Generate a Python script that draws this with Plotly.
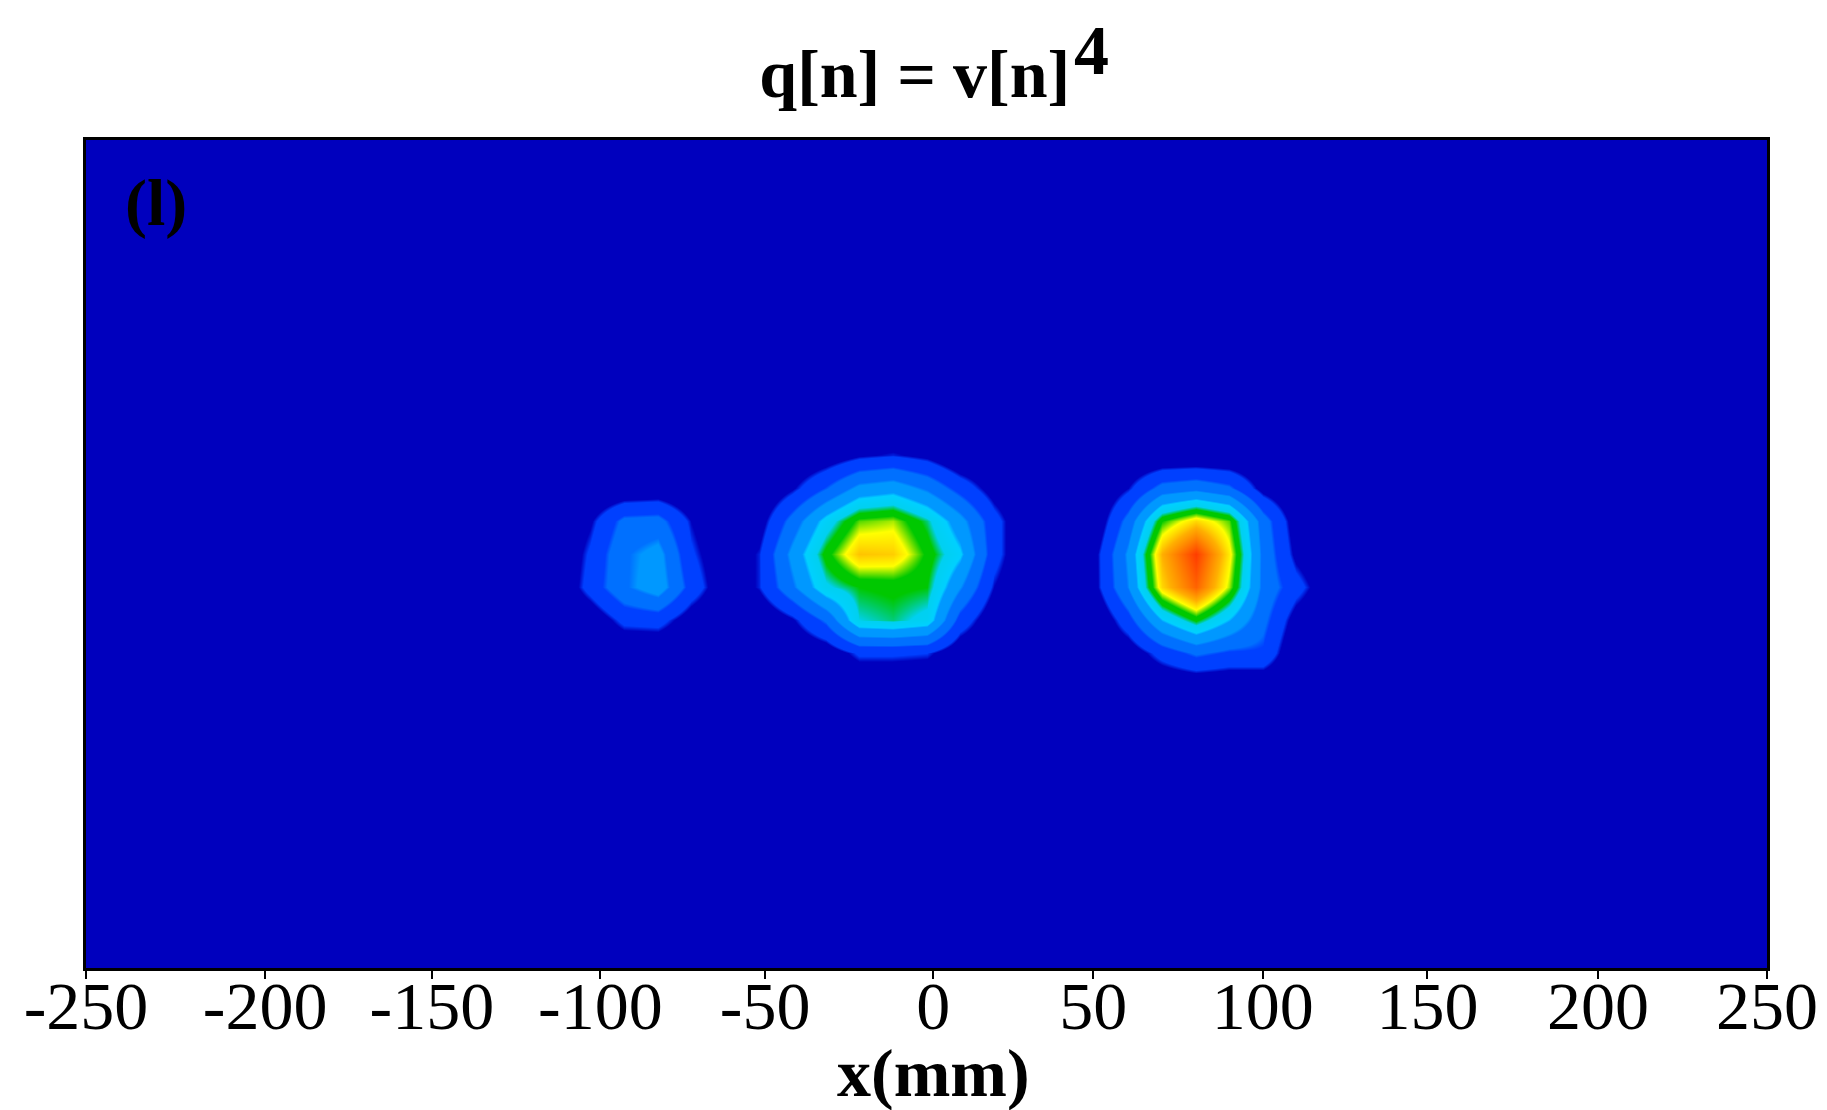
import plotly.graph_objects as go

x_mm = [-110,-100,-90,-80,-70,-60,-50,-40,-30,-20,-10,0,10,20,30,40,50,60,70,80,90,100,110,120]
y_mm = [-40,-30,-20,-10,0,10,20,30,40]

#        -110 -100  -90  -80  -70  -60  -50  -40  -30  -20  -10    0   10   20   30  40   50   60   70   80   90  100  110  120
z_p40 = [0]*24
z_p30 = [0,   0,   0,   0,   0,   0,   0,   0,  .03, .08, .10, .07,  0,   0,   0,  0,   0,   0,   0,   0,   0,   0,   0,   0]
z_p20 = [0,   0,  .01, .02,  0,   0,   0,  .08, .20, .33, .36, .28, .16, .05,  0,  0,   0,  .09, .24, .27, .22, .06,  0,   0]
z_p10 = [0,  .08, .23, .24, .09,  0,  .05, .24, .44, .58, .60, .50, .34, .14,  0,  0,  .02, .24, .56, .66, .58, .25, .04,  0]
z_0   = [0,  .12, .28, .34, .12, .02, .10, .33, .54, .68, .67, .55, .42, .14,  0,  0,  .07, .32, .70, .88, .64, .27, .07,  0]
z_m10 = [0,  .14, .28, .36, .16, .02, .10, .28, .47, .52, .53, .52, .31, .09,  0,  0,  .07, .30, .66, .82, .60, .27, .14, .02]
z_m20 = [0,  .02, .13, .14, .04,  0,   0,  .08, .22, .48, .50, .46, .16, .02,  0,  0,   0,  .16, .40, .53, .40, .23, .05,  0]
z_m30 = [0,   0,   0,   0,   0,   0,   0,   0,  .03, .12, .12, .11, .02,  0,   0,  0,   0,  .03, .14, .22, .18, .18,  0,   0]
z_m40 = [0]*24

tick_vals = [-250,-196.7,-147.1,-97,-48,2,49.6,100,149,199.7,250]
tick_text = ["-250","-200","-150","-100","-50","0","50","100","150","200","250"]

colorscale = [
    [0.00,"#0000BE"],[0.09,"#0000BE"],[0.11,"#0040FF"],[0.19,"#0040FF"],
    [0.21,"#0070FF"],[0.29,"#0070FF"],[0.31,"#0098FF"],[0.39,"#0098FF"],
    [0.41,"#00D0FF"],[0.48,"#00D0F0"],[0.52,"#00C800"],[0.56,"#00C800"],
    [0.62,"#FFFF00"],[0.70,"#FFB000"],[0.90,"#FF3000"],[1.00,"#F00000"],
]

fig = go.Figure(go.Heatmap(
    x=x_mm, y=y_mm,
    z=[z_m40,z_m30,z_m20,z_m10,z_0,z_p10,z_p20,z_p30,z_p40],
    zmin=0, zmax=1, zsmooth="best", colorscale=colorscale, showscale=False,
))

serif = "Liberation Serif"
fig.update_layout(
    width=1827, height=1110,
    margin=dict(l=86, r=60, t=140, b=142, autoexpand=False),
    paper_bgcolor="white", plot_bgcolor="#0000BE",
    font=dict(family=serif, color="black"),
    title=dict(text="<b>q[n] = v[n]</b>", font=dict(size=68), x=0.493, xanchor="center",
               xref="paper", y=0.934, yanchor="middle"),
    xaxis=dict(range=[-250,250], tickmode="array", tickvals=tick_vals, ticktext=tick_text,
               ticks="outside", ticklen=8, tickwidth=2, tickcolor="black",
               tickfont=dict(size=68), ticklabelstandoff=-32, showgrid=False, zeroline=False,
               showline=True, linecolor="black", linewidth=3, mirror=True, automargin=False),
    yaxis=dict(range=[-125,125], showticklabels=False, ticks="", showgrid=False, zeroline=False,
               showline=True, linecolor="black", linewidth=3, mirror=True, automargin=False),
    annotations=[
        dict(text="<b>4</b>", xref="paper", yref="paper", x=0.598, y=1.108, xanchor="center",
             yanchor="middle", showarrow=False, font=dict(size=70)),
        dict(text="<b>(l)</b>", xref="paper", yref="paper", x=0.0223, y=0.9236, xanchor="left",
             yanchor="middle", showarrow=False, font=dict(size=66)),
        dict(text="<b>x(mm)</b>", xref="paper", yref="paper", x=0.504, y=-0.127, xanchor="center",
             yanchor="middle", showarrow=False, font=dict(size=68)),
    ],
)
fig.write_html("out.html", config=dict(displayModeBar=False), post_script="document.body.style.margin='0';")
